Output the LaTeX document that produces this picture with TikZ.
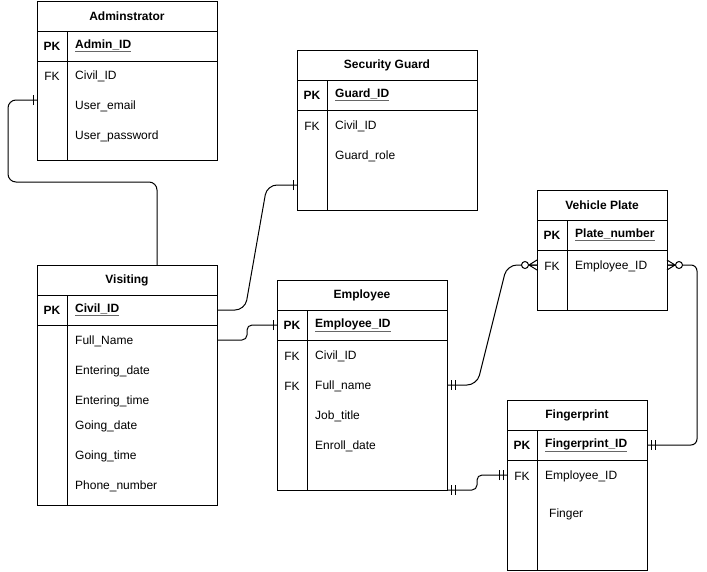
\documentclass[tikz,border=0pt]{standalone}
\usepackage{fontspec}
\setmainfont{Liberation Sans}
\usetikzlibrary{calc}
\newcommand{\ersize}{\fontsize{12}{14}\selectfont}
\newcommand{\pkline}[1]{{\color{black!60}\underline{\color{black}#1}}}

\tikzset{
  tbl/.style={draw,line width=1pt,anchor=north west,inner sep=0pt,outer sep=0pt},
  ttl/.style={font=\ersize\bfseries,inner sep=0pt},
  key/.style={font=\ersize\bfseries,inner sep=0pt},
  fkey/.style={font=\ersize,inner sep=0pt},
  fld/.style={font=\ersize,anchor=west,inner sep=0pt},
  pkfld/.style={fld,font=\ersize\bfseries},
  rel/.style={line width=1pt},
  one/.pic={\draw[line width=1pt] (4,-5)--(4,5);},
  mandone/.pic={\draw[line width=1pt] (4,-5)--(4,5) (8,-5)--(8,5);},
  zeromany/.pic={\draw[line width=1pt] (0,-5)--(8,0)--(0,5) (0,0)--(8,0);
    \draw[line width=1pt,fill=white] (12,0) circle (3.5);},
}

\begin{document}
\begin{tikzpicture}[x=1pt,y=-1pt]
  \useasboundingbox (0,0) rectangle (707,571);
  % Adminstrator
  \node[tbl,minimum width=180pt,minimum height=159pt] (admin) at (37,1) {};
  \draw[line width=1pt] (37,31)--(217,31) (37,61)--(217,61) (67,31)--(67,160);
  \node[ttl] (admin-t) at (127,16) {Adminstrator};
  \node[key] (admin-pk) at (52,46) {PK};
  \node[pkfld] (admin-id) at (75,46) {\pkline{Admin\_ID}};
  \node[fkey] (admin-fk) at (52,76) {FK};
  \node[fld] (admin-civ) at (75,76) {Civil\_ID};
  \node[fld] (admin-mail) at (75,106) {User\_email};
  \node[fld] (admin-pw) at (75,136) {User\_password};
  % Security Guard
  \node[tbl,minimum width=180pt,minimum height=160pt] (guard) at (297,50) {};
  \draw[line width=1pt] (297,80)--(477,80) (297,110)--(477,110) (327,80)--(327,210);
  \node[ttl] (guard-t) at (387,65) {Security Guard};
  \node[key] (guard-pk) at (312,95) {PK};
  \node[pkfld] (guard-id) at (335,95) {\pkline{Guard\_ID}};
  \node[fkey] (guard-fk) at (312,126) {FK};
  \node[fld] (guard-civ) at (335,126) {Civil\_ID};
  \node[fld] (guard-role) at (335,156) {Guard\_role};
  % Vehicle Plate
  \node[tbl,minimum width=130pt,minimum height=120pt] (plate) at (537,190) {};
  \draw[line width=1pt] (537,220)--(667,220) (537,250)--(667,250) (567,220)--(567,310);
  \node[ttl] (plate-t) at (602,205) {Vehicle Plate};
  \node[key] (plate-pk) at (552,235) {PK};
  \node[pkfld] (plate-no) at (575,235) {\pkline{Plate\_number}};
  \node[fkey] (plate-fk) at (552,266) {FK};
  \node[fld] (plate-emp) at (575,266) {Employee\_ID};
  % Visiting
  \node[tbl,minimum width=180pt,minimum height=240pt] (visiting) at (37,265) {};
  \draw[line width=1pt] (37,295)--(217,295) (37,325)--(217,325) (67,295)--(67,505);
  \node[ttl] (visiting-t) at (127,280) {Visiting};
  \node[key] (visiting-pk) at (52,310) {PK};
  \node[pkfld] (visiting-id) at (75,310) {\pkline{Civil\_ID}};
  \node[fld] (visiting-name) at (75,341) {Full\_Name};
  \node[fld] (visiting-ed) at (75,371) {Entering\_date};
  \node[fld] (visiting-et) at (75,401) {Entering\_time};
  \node[fld] (visiting-gd) at (75,426) {Going\_date};
  \node[fld] (visiting-gt) at (75,456) {Going\_time};
  \node[fld] (visiting-ph) at (75,486) {Phone\_number};
  % Employee
  \node[tbl,minimum width=170pt,minimum height=210pt] (employee) at (277,280) {};
  \draw[line width=1pt] (277,310)--(447,310) (277,340)--(447,340) (307,310)--(307,490);
  \node[ttl] (employee-t) at (362,295) {Employee};
  \node[key] (employee-pk) at (292,325) {PK};
  \node[pkfld] (employee-id) at (315,325) {\pkline{Employee\_ID}};
  \node[fkey] (employee-fk1) at (292,356) {FK};
  \node[fld] (employee-civ) at (315,356) {Civil\_ID};
  \node[fkey] (employee-fk2) at (292,386) {FK};
  \node[fld] (employee-name) at (315,386) {Full\_name};
  \node[fld] (employee-job) at (315,416) {Job\_title};
  \node[fld] (employee-enr) at (315,446) {Enroll\_date};
  % Fingerprint
  \node[tbl,minimum width=140pt,minimum height=170pt] (finger) at (507,400) {};
  \draw[line width=1pt] (507,430)--(647,430) (507,460)--(647,460) (537,430)--(537,570);
  \node[ttl] (finger-t) at (577,415) {Fingerprint};
  \node[key] (finger-pk) at (522,445) {PK};
  \node[pkfld] (finger-id) at (545,445) {\pkline{Fingerprint\_ID}};
  \node[fkey] (finger-fk) at (522,476) {FK};
  \node[fld] (finger-emp) at (545,476) {Employee\_ID};
  \node[fld] (finger-f) at (549,514) {Finger};
  % connector ends
  \coordinate (adm-w) at ($(admin.north west)+(0,99)$);
  \coordinate (vis-n) at ([xshift=30pt]visiting.north);
  \coordinate (vis-pk) at ($(visiting.north east)+(0,45)$);
  \coordinate (vis-fn) at ($(visiting.north east)+(0,75)$);
  \coordinate (grd-w) at ($(guard.north west)+(0,135)$);
  \coordinate (emp-w) at ($(employee.north west)+(0,45)$);
  \coordinate (emp-fn) at ($(employee.north east)+(0,105)$);
  \coordinate (emp-se) at (employee.south east);
  \coordinate (plt-w) at ($(plate.north west)+(0,75)$);
  \coordinate (plt-e) at ($(plate.north east)+(0,75)$);
  \coordinate (fgp-e) at ($(finger.north east)+(0,45)$);
  \coordinate (fgp-w) at ($(finger.north west)+(0,75)$);
  % relations
  \draw[rel,rounded corners=8pt] (adm-w) -- ++(-29,0) -- ++(0,82) -- ++(149,0) -- (vis-n);
  \draw[rel,rounded corners=10pt] (vis-pk) -- ++(28,0) -- ($(grd-w)+(-30,0)$) -- (grd-w);
  \draw[rel,rounded corners=5pt] (vis-fn) -- ++(30,0) -- ($(emp-w)+(-30,0)$) -- (emp-w);
  \draw[rel,rounded corners=10pt] (emp-fn) -- ++(30,0) -- ($(plt-w)+(-30,0)$) -- (plt-w);
  \draw[rel,rounded corners=6pt] (plt-e) -- ++(30,0) |- (fgp-e);
  \draw[rel,rounded corners=5pt] (emp-se) -- ++(30,0) -- ($(fgp-w)+(-30,0)$) -- (fgp-w);
  \pic[rotate=180] at (adm-w) {one};
  \pic[rotate=180] at (grd-w) {one};
  \pic[rotate=180] at (emp-w) {one};
  \pic at (emp-fn) {mandone};
  \pic[rotate=180] at (plt-w) {zeromany};
  \pic at (plt-e) {zeromany};
  \pic at (fgp-e) {mandone};
  \pic at (emp-se) {mandone};
  \pic[rotate=180] at (fgp-w) {mandone};
\end{tikzpicture}
\end{document}
